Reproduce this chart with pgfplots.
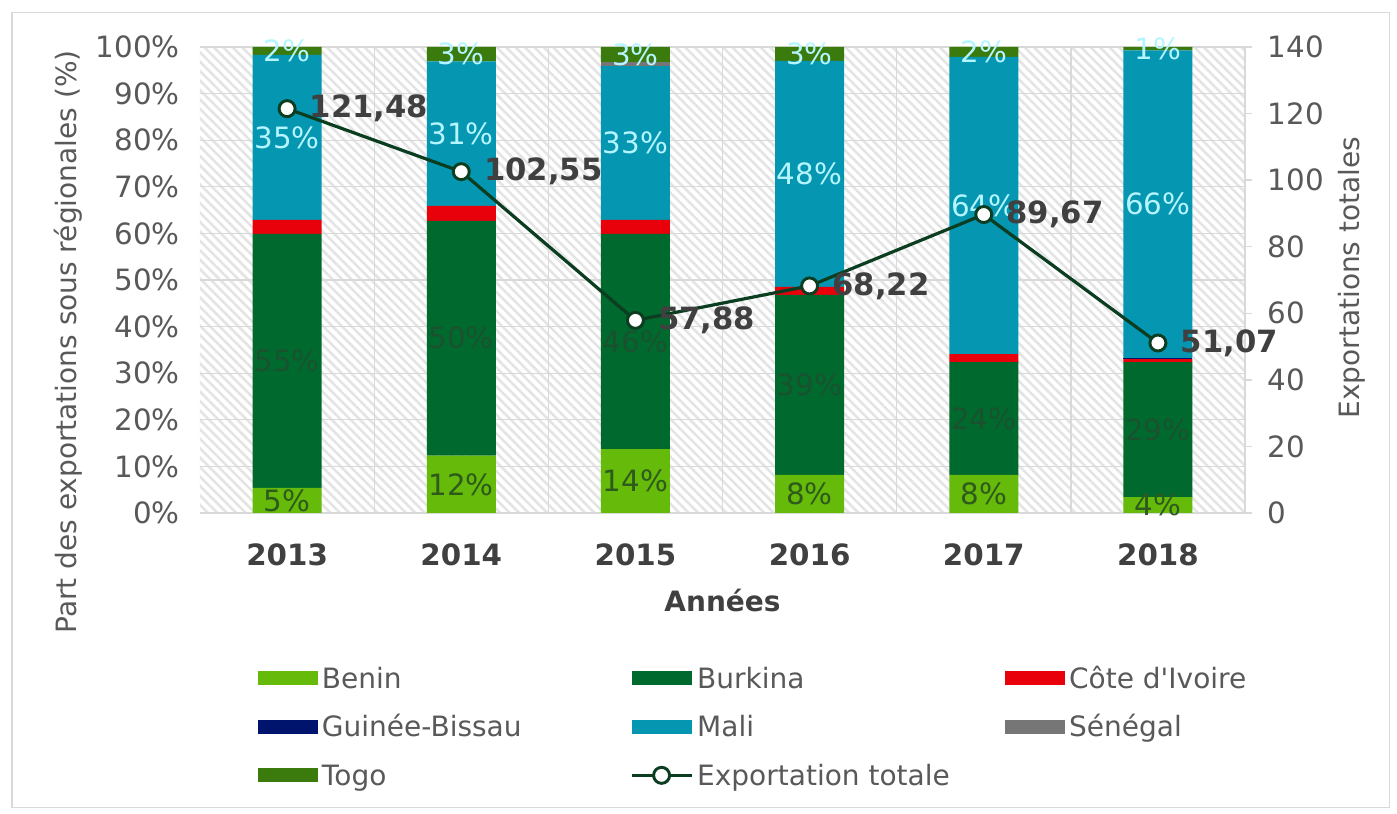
\documentclass[border=0pt]{standalone}
\usepackage{pgfplots}
\pgfplotsset{compat=1.18}
\usepackage{pgfplotstable}
\usetikzlibrary{patterns.meta}
\usepackage{fontspec}
\setmainfont{DejaVu Sans}
\definecolor{cBenin}{HTML}{66BB0A}
\definecolor{cBurkina}{HTML}{006A2E}
\definecolor{cCI}{HTML}{E8000B}
\definecolor{cGB}{HTML}{00146E}
\definecolor{cMali}{HTML}{0596B2}
\definecolor{cSen}{HTML}{767676}
\definecolor{cTogo}{HTML}{3B7A0C}
\definecolor{cLine}{HTML}{0B3D20}
\definecolor{cTick}{HTML}{595959}
\definecolor{cDark}{HTML}{404040}
\definecolor{cGrid}{HTML}{D9D9D9}
\definecolor{cHatch}{HTML}{E4E4E4}
\definecolor{lBenin}{HTML}{2E5A1C}
\definecolor{lBurkina}{HTML}{1A5230}
\definecolor{lMali}{HTML}{B5F5FF}

\pgfplotstableread{
x benin burkina ci gb mali sen togo
0 5.4 54.5 3.0 0 35.4 0 1.7
1 12.3 50.4 3.2 0 31.0 0 3.1
2 13.7 46.2 3.0 0 33.0 0.8 3.3
3 8.2 38.6 1.7 0 48.5 0 3.0
4 8.2 24.2 1.7 0 63.8 0 2.1
5 3.4 29.0 0.6 0.3 66.0 0 0.7
}\shares

\pgfplotstableread{
x benin bl burkina bkl mali ml togo tl
0 2.7 5 32.65 55 80.6 35 99.15 2
1 6.15 12 37.5 50 81.4 31 98.45 3
2 6.85 14 36.8 46 79.4 33 98.35 3
3 4.1 8 27.5 39 72.75 48 98.5 3
4 4.1 8 20.3 24 66.0 64 98.95 2
5 1.7 4 17.9 29 66.3 66 99.65 1
}\labels

\pgfplotstableread{
x y label
0 121.48 121,48
1 102.55 102,55
2 57.88 57,88
3 68.22 68,22
4 89.67 89,67
5 51.07 51,07
}\totals

\pgfplotsset{
  barlegend/.style={legend image code/.code={\fill[##1] (0pt,-5.25pt) rectangle (45pt,5.25pt);}},
  linelegend/.style={legend image code/.code={\draw[mark repeat=2,mark phase=2,##1] plot coordinates {(0pt,0pt) (22.5pt,0pt) (45pt,0pt)};}},
  myframe/.style={at={(150pt,225.75pt)}, anchor=south west, scale only axis,
    width=783.75pt, height=349.5pt, xmin=-0.5, xmax=5.5},
}

\begin{document}
\begin{tikzpicture}
\useasboundingbox (0,0) rectangle (1047.75pt,610.5pt);
\fill[white] (0,0) rectangle (1047.75pt,610.5pt);
\draw[cGrid, line width=0.8pt] (9pt,5pt) rectangle (1042pt,601pt);

% bars
\begin{axis}[myframe,
  ybar stacked, bar width=51.75pt,
  ymin=0, ymax=100,
  axis background/.style={pattern={Lines[angle=-45,distance=5pt,line width=1.9pt]}, pattern color=cHatch},
  xtick={0,...,5}, xticklabels={2013,2014,2015,2016,2017,2018},
  minor xtick={0.5,1.5,2.5,3.5,4.5},
  xminorgrids=true, ymajorgrids=true, xmajorgrids=false,
  grid style={cGrid, line width=1pt},
  minor grid style={cGrid, line width=1pt},
  ytick={0,10,...,100},
  yticklabel={\pgfmathprintnumber{\tick}\%},
  /pgf/number format/assume math mode=true,
  axis x line*=bottom, axis y line*=left,
  x axis line style={cGrid, line width=1pt, -},
  y axis line style={draw=none, -},
  tick style={draw=none}, minor tick style={draw=none},
  yticklabel style={anchor=east, inner sep=0pt, xshift=-15pt, font=\fontsize{22}{26}\selectfont, text=cTick},
  xticklabel style={anchor=center, inner sep=0pt, yshift=-31.5pt, font=\fontsize{22}{26}\selectfont\bfseries, text=cDark},
  xlabel={Années},
  xlabel style={at={(axis description cs:0.5,0)}, anchor=center, yshift=-66pt, font=\fontsize{21}{25}\selectfont\bfseries, text=cDark},
  ylabel={Part des exportations sous régionales (\%)},
  ylabel style={at={(axis description cs:-0.1263,0.367)}, anchor=center, font=\fontsize{21}{25}\selectfont, text=cTick},
]
\addplot[fill=cBenin, draw=none] table[x=x,y=benin]{\shares};
\addplot[fill=cBurkina, draw=none] table[x=x,y=burkina]{\shares};
\addplot[fill=cCI, draw=none] table[x=x,y=ci]{\shares};
\addplot[fill=cGB, draw=none] table[x=x,y=gb]{\shares};
\addplot[fill=cMali, draw=none] table[x=x,y=mali]{\shares};
\addplot[fill=cSen, draw=none] table[x=x,y=sen]{\shares};
\addplot[fill=cTogo, draw=none] table[x=x,y=togo]{\shares};
\end{axis}

% segment labels
\begin{axis}[myframe, ymin=0, ymax=100, hide axis,
  nodes near coords={\pgfplotspointmeta\%}, point meta=explicit symbolic,
  every node near coord/.append style={anchor=center, inner sep=0pt, font=\fontsize{22}{26}\selectfont},
]
\addplot[draw=none, every node near coord/.append style={text=lBenin}] table[x=x,y=benin,meta=bl]{\labels};
\addplot[draw=none, every node near coord/.append style={text=lBurkina}] table[x=x,y=burkina,meta=bkl]{\labels};
\addplot[draw=none, every node near coord/.append style={text=lMali}] table[x=x,y=mali,meta=ml]{\labels};
\addplot[draw=none, every node near coord/.append style={text=lMali}] table[x=x,y=togo,meta=tl]{\labels};
\end{axis}

% total exports line
\begin{axis}[myframe, ymin=0, ymax=140,
  axis x line=none, axis y line*=right,
  y axis line style={cGrid, line width=1pt, -},
  ytick={0,20,...,140},
  ytick style={cGrid, line width=1pt},
  tick align=outside, major tick length=5pt,
  /pgf/number format/assume math mode=true,
  yticklabel style={anchor=west, inner sep=0pt, xshift=12pt, font=\fontsize{22}{26}\selectfont, text=cTick},
  ylabel={Exportations totales},
  ylabel style={at={(axis description cs:1.1024,0.505)}, anchor=center, font=\fontsize{21}{25}\selectfont, text=cTick},
  legend columns=3,
  legend cell align=left,
  legend style={at={(axis description cs:0.0555,-0.3269)}, anchor=north west,
    draw=none, fill=none, inner sep=0pt, outer sep=0pt, row sep=17.5pt,
    font=\fontsize{21}{25}\selectfont, text=cTick,
    nodes={inner sep=0pt, text height=17pt, text depth=2pt},
    /tikz/every odd column/.append style={column sep=3pt}},
]
\addlegendimage{barlegend, fill=cBenin, draw=none}
\addlegendentry{\makebox[231pt][l]{Benin}}
\addlegendimage{barlegend, fill=cBurkina, draw=none}
\addlegendentry{\makebox[231pt][l]{Burkina}}
\addlegendimage{barlegend, fill=cCI, draw=none}
\addlegendentry{\makebox[231pt][l]{Côte d{\addfontfeature{Ligatures=TeXOff}'}Ivoire}}
\addlegendimage{barlegend, fill=cGB, draw=none}
\addlegendentry{\makebox[231pt][l]{Guinée-Bissau}}
\addlegendimage{barlegend, fill=cMali, draw=none}
\addlegendentry{\makebox[231pt][l]{Mali}}
\addlegendimage{barlegend, fill=cSen, draw=none}
\addlegendentry{\makebox[231pt][l]{Sénégal}}
\addlegendimage{barlegend, fill=cTogo, draw=none}
\addlegendentry{\makebox[231pt][l]{Togo}}
\addplot[linelegend, cLine, line width=2.4pt, mark=*, mark size=6pt,
  mark options={fill=white, draw=cLine, line width=2.2pt},
  nodes near coords, point meta=explicit symbolic,
  every node near coord/.append style={anchor=west, xshift=16pt, inner sep=0pt, text=cDark, font=\fontsize{23}{27}\selectfont\bfseries}]
  table[x=x,y=y,meta=label]{\totals};
\addlegendentry{\makebox[231pt][l]{Exportation totale}}
\end{axis}
\end{tikzpicture}
\end{document}
